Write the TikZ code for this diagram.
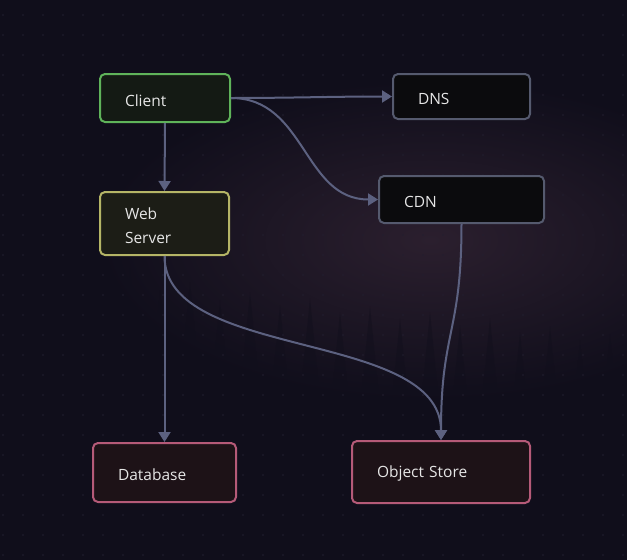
\documentclass[tikz,border=0pt]{standalone}
\usepackage{fontspec}
\setmainfont{Open Sans}
\usetikzlibrary{arrows.meta}
\definecolor{bgc}{HTML}{100E1B}
\definecolor{glow}{HTML}{2B1F2E}
\definecolor{treec}{HTML}{110F1C}
\definecolor{dotc}{HTML}{221F30}
\definecolor{edgec}{HTML}{5C6180}
\definecolor{txt}{HTML}{E6E6E6}
\definecolor{grb}{HTML}{5FB35A}\definecolor{grf}{HTML}{141A14}
\definecolor{yeb}{HTML}{B5B566}\definecolor{yef}{HTML}{1C1D16}
\definecolor{gyb}{HTML}{555A6E}\definecolor{gyf}{HTML}{0B0B0D}
\definecolor{pkb}{HTML}{B55A78}\definecolor{pkf}{HTML}{1D1217}
\tikzset{
  box/.style={draw, rounded corners=5pt, line width=2pt, inner xsep=25pt, inner ysep=0pt,
    align=left, text=txt, font=\fontsize{15.5}{24.4}\selectfont, anchor=center, text depth=0pt},
  conn/.style={draw=edgec, line width=2pt, -{Triangle[length=10pt,width=12pt]}},
}
\begin{document}
\begin{tikzpicture}[x=1pt,y=-1pt]
\useasboundingbox (0,0) rectangle (627,560);
\fill[bgc] (0,0) rectangle (627,560);
\begin{scope}
\clip (0,0) rectangle (627,560);
\shade[inner color=glow, outer color=bgc] (430,240) ellipse (330 and 160);
% forest silhouettes
\foreach \x/\t in {10/245,40/262,70/250,100/275,130/268,160/290,190/282,220/300,250/292,280/305,310/298,340/312,370/306,400/318,430/312,460/325,490/318,520/332,550/326,580/340,610/334}
  \fill[treec, opacity=0.45] (\x,\t) -- (\x-16,\t+160) -- (\x+16,\t+160) -- cycle;
\shade[top color=treec, bottom color=bgc, opacity=0.6] (0,390) rectangle (627,470);
\end{scope}
\foreach \x in {3,23,...,623}
  \foreach \y in {15,35,...,555}
    \fill[dotc] (\x,\y) circle (0.9pt);

\node[box, draw=grb, fill=grf, minimum width=130pt, minimum height=48pt, text width=80pt, text height=17.4pt] (client) at (165,98) {Client};
\node[box, draw=gyb, fill=gyf, minimum width=137pt, minimum height=45pt, text width=87pt, text height=15pt] (dns) at (461.5,96.5) {DNS};
\node[box, draw=yeb, fill=yef, minimum width=129pt, minimum height=63pt, text width=79pt, text height=16pt, text depth=24.4pt] (web) at (164.5,223.5) {Web\\Server};
\node[box, draw=gyb, fill=gyf, minimum width=165pt, minimum height=47pt, text width=115pt, text height=15pt] (cdn) at (461.5,199.5) {CDN};
\node[box, draw=pkb, fill=pkf, minimum width=143pt, minimum height=59pt, text width=93pt, text height=15pt] (db) at (164.5,472.5) {Database};
\node[box, draw=pkb, fill=pkf, minimum width=178pt, minimum height=62pt, text width=128pt, text height=11.4pt] (obj) at (441,472) {Object Store};

\draw[conn] (client.south) -- (web.north);
\draw[conn] (client.east) .. controls +(60,0) and +(-60,0) .. (dns.west);
\draw[conn] (client.east) .. controls +(75,0) and +(-75,0) .. (cdn.west);
\draw[conn] (web.south) -- (db.north);
\draw[conn] (web.south) .. controls +(0,105) and +(0,-111) .. (obj.north);
\draw[conn] (cdn.south) .. controls +(0,110) and +(0,-110) .. (obj.north);
\end{tikzpicture}
\end{document}
